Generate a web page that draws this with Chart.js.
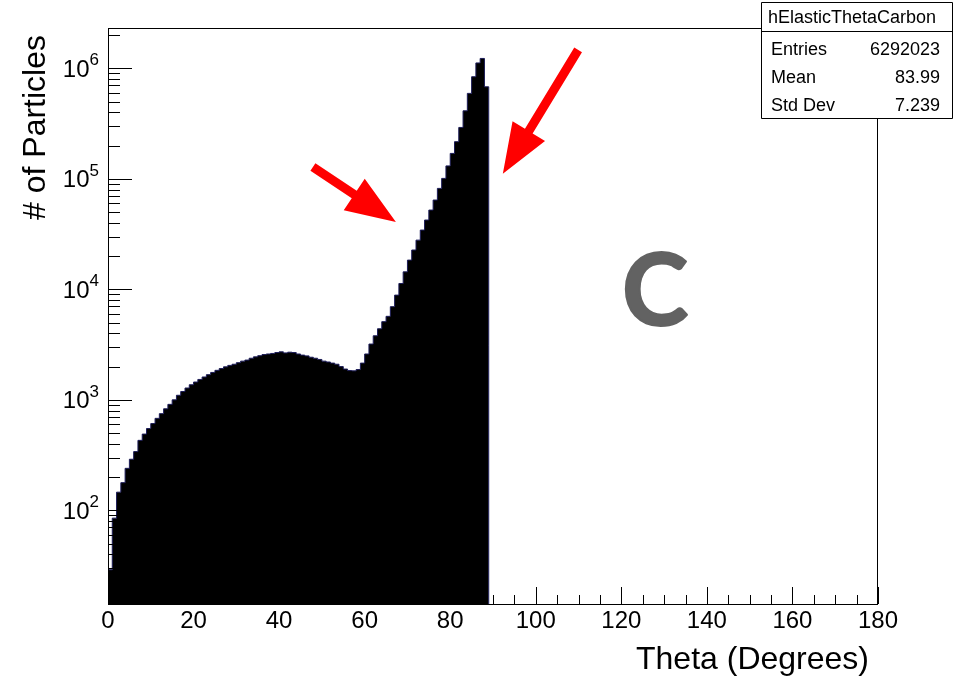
<!DOCTYPE html>
<html lang="en">
<head>
<meta charset="UTF-8">
<title>hElasticThetaCarbon</title>
<script src="https://cdn.jsdelivr.net/npm/chart.js"></script>
<style>
  html, body { margin: 0; padding: 0; background: #fff; }
  canvas { display: block; }
</style>
</head>
<body>
<canvas id="myChart" width="957" height="678"></canvas>
<script>
// histogram: 1 degree bins starting at 0
const binWidth = 1;
const counts = [
  29, 85, 146, 178, 240, 290, 340, 430, 490, 550,
  610, 680, 750, 830, 910, 1000, 1100, 1190, 1280, 1370,
  1450, 1530, 1610, 1690, 1770, 1850, 1920, 1990, 2050, 2100,
  2170, 2240, 2290, 2380, 2450, 2510, 2570, 2600, 2630, 2680,
  2720, 2660, 2700, 2680, 2600, 2540, 2500, 2430, 2380, 2320,
  2240, 2200, 2150, 2100, 2000, 1900, 1840, 1830, 1880, 2150,
  2600, 3200, 3800, 4400, 5100, 5700, 6970, 8870, 11300, 14400,
  18400, 22700, 27900, 34400, 42400, 52200, 64300, 82000, 101000, 131000,
  170000, 217000, 292000, 413000, 594000, 840000, 1120000, 1230000, 681000
];
const xTicks = [0, 20, 40, 60, 80, 100, 120, 140, 160, 180];
const yDecades = [2, 3, 4, 5, 6];
const statsTitle = 'hElasticThetaCarbon';
const statsNames = ['Entries', 'Mean', 'Std Dev'];
const statsValues = ['6292023', '83.99', '7.239'];
// red arrows, tail -> tip, in data units (theta, count)
const arrows = [
  { from: [47.9, 128000], to: [67.3, 40600] },
  { from: [109.9, 1470000], to: [92.3, 111000] }
];
const bigLetter = { text: 'C', at: [127.9, 9700] };

// left edge of every bin, plus the closing edge and a drop below the axis
const points = counts.map((c, i) => ({ x: i * binWidth, y: c }));
points.push({ x: counts.length * binWidth, y: counts[counts.length - 1] });
points.push({ x: counts.length * binWidth, y: 1 });

const FONT = '"Liberation Sans", Arial, sans-serif';

const rootStyle = {
  id: 'rootStyle',
  afterDatasetsDraw(chart) {
    const ctx = chart.ctx;
    const a = chart.chartArea;
    const xs = chart.scales.x, ys = chart.scales.y;
    ctx.save();
    ctx.strokeStyle = '#000';
    ctx.lineWidth = 1;

    // frame
    ctx.strokeRect(a.left + 0.5, a.top + 0.5, a.right - a.left - 1, a.bottom - a.top);

    // x ticks (inside, from the bottom)
    ctx.beginPath();
    for (let v = 0; v <= 180; v += 5) {
      const px = Math.round(xs.getPixelForValue(v)) + 0.5;
      const len = v % 20 === 0 ? 17 : 9;
      ctx.moveTo(px, a.bottom);
      ctx.lineTo(px, a.bottom - len);
    }
    // y ticks (log, inside, from the left)
    for (let d = 1; d <= 6; d++) {
      for (let k = 1; k <= 9; k++) {
        const v = k * Math.pow(10, d);
        if (v < ys.min || v > ys.max) continue;
        const py = Math.round(ys.getPixelForValue(v)) + 0.5;
        const len = k === 1 ? 24 : 12;
        ctx.moveTo(a.left, py);
        ctx.lineTo(a.left + len, py);
      }
    }
    ctx.stroke();

    // tick labels
    ctx.fillStyle = '#000';
    ctx.font = '24px ' + FONT;
    ctx.textAlign = 'center';
    ctx.textBaseline = 'middle';
    xTicks.forEach(v => ctx.fillText(String(v), xs.getPixelForValue(v), 621));

    yDecades.forEach(d => {
      const py = ys.getPixelForValue(Math.pow(10, d));
      const right = 99;
      ctx.font = '17px ' + FONT;
      const ew = ctx.measureText(String(d)).width;
      ctx.textAlign = 'left';
      ctx.fillText(String(d), right - ew, py - 8);
      ctx.font = '24px ' + FONT;
      const bw = ctx.measureText('10').width;
      ctx.fillText('10', right - ew - bw, py + 2);
    });

    // axis titles
    ctx.font = '32px ' + FONT;
    ctx.textAlign = 'right';
    ctx.textBaseline = 'alphabetic';
    ctx.fillText('Theta (Degrees)', 869, 669);
    ctx.save();
    ctx.translate(45, 35);
    ctx.rotate(-Math.PI / 2);
    ctx.fillText('# of Particles', 0, 0);
    ctx.restore();

    // big letter (slightly thickened)
    ctx.fillStyle = '#626262';
    ctx.strokeStyle = '#626262';
    ctx.lineWidth = 2;
    ctx.lineJoin = 'round';
    ctx.font = 'bold 100px Lato, "DejaVu Sans", sans-serif';
    ctx.textAlign = 'center';
    ctx.textBaseline = 'middle';
    const lx = xs.getPixelForValue(bigLetter.at[0]);
    const ly = ys.getPixelForValue(bigLetter.at[1]) + 2;
    ctx.fillText(bigLetter.text, lx, ly);
    ctx.strokeText(bigLetter.text, lx, ly);
    ctx.lineWidth = 1;

    // arrows
    ctx.fillStyle = '#ff0000';
    arrows.forEach(ar => {
      const x0 = xs.getPixelForValue(ar.from[0]), y0 = ys.getPixelForValue(ar.from[1]);
      const x1 = xs.getPixelForValue(ar.to[0]), y1 = ys.getPixelForValue(ar.to[1]);
      const L = Math.hypot(x1 - x0, y1 - y0);
      const ux = (x1 - x0) / L, uy = (y1 - y0) / L;
      const nx = -uy, ny = ux;
      const headL = 50, headW = 19, shaftW = 4.5;
      const bx = x1 - ux * headL, by = y1 - uy * headL;
      ctx.beginPath();
      ctx.moveTo(x0 + nx * shaftW, y0 + ny * shaftW);
      ctx.lineTo(bx + nx * shaftW, by + ny * shaftW);
      ctx.lineTo(bx + nx * headW, by + ny * headW);
      ctx.lineTo(x1, y1);
      ctx.lineTo(bx - nx * headW, by - ny * headW);
      ctx.lineTo(bx - nx * shaftW, by - ny * shaftW);
      ctx.lineTo(x0 - nx * shaftW, y0 - ny * shaftW);
      ctx.closePath();
      ctx.fill();
    });

    // stats box
    ctx.fillStyle = '#fff';
    ctx.fillRect(761.5, 2.5, 191, 116);
    ctx.strokeStyle = '#000';
    ctx.strokeRect(761.5, 2.5, 191, 116);
    ctx.beginPath();
    ctx.moveTo(761.5, 31.5);
    ctx.lineTo(952.5, 31.5);
    ctx.stroke();
    ctx.fillStyle = '#000';
    ctx.font = '18px ' + FONT;
    ctx.textAlign = 'center';
    ctx.textBaseline = 'middle';
    ctx.fillText(statsTitle, 852, 18);
    ctx.textBaseline = 'alphabetic';
    statsNames.forEach((n, i) => {
      const by = 55 + i * 28;
      ctx.textAlign = 'left';
      ctx.fillText(n, 771, by);
      ctx.textAlign = 'right';
      ctx.fillText(statsValues[i], 940, by);
    });

    ctx.restore();
  }
};

const config = {
  type: 'line',
  data: {
    datasets: [{
      data: points,
      stepped: 'before',
      fill: 'start',
      backgroundColor: '#000',
      borderColor: '#1c1c58',
      borderWidth: 1,
      pointRadius: 0,
      tension: 0
    }]
  },
  options: {
    responsive: false,
    animation: false,
    layout: { padding: { left: 108, right: 79, top: 28, bottom: 74 } },
    plugins: { legend: { display: false }, tooltip: { enabled: false } },
    scales: {
      x: { type: 'linear', min: 0, max: 180, display: false },
      y: { type: 'logarithmic', min: 14.2, max: 2.32e6, display: false }
    }
  },
  plugins: [rootStyle]
};

const myChart = new Chart(document.getElementById('myChart'), config);
</script>
</body>
</html>
